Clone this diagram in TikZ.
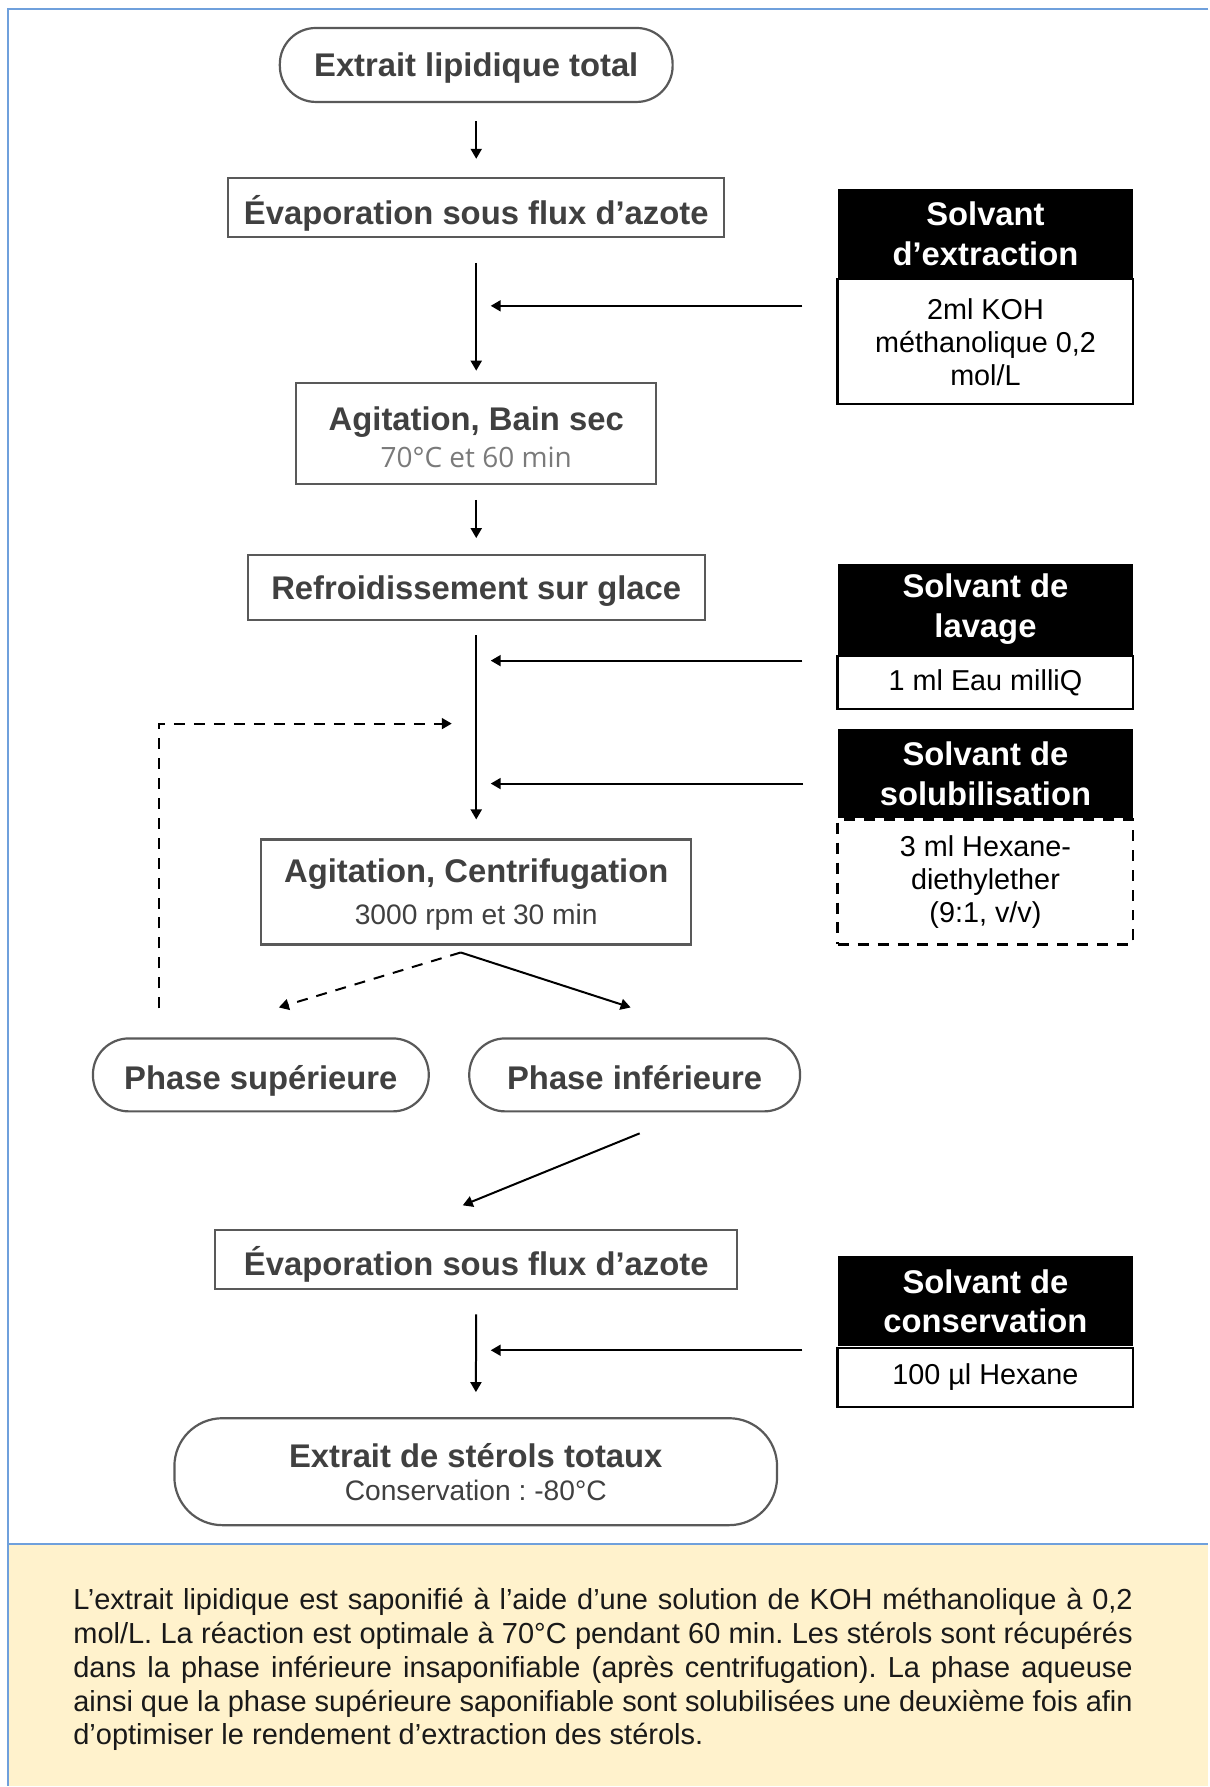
\documentclass[tikz,border=0pt]{standalone}
\usepackage{fontspec}
\setmainfont{Liberation Sans}
\newfontfamily\opensans{Open Sans}
\usetikzlibrary{positioning}
\usetikzlibrary{calc}
\usetikzlibrary{arrows.meta}
\frenchspacing

\definecolor{cadre}{HTML}{6FA0DC}
\definecolor{fondnote}{HTML}{FFF2CC}
\definecolor{gristexte}{HTML}{404040}
\definecolor{grisbord}{HTML}{595959}
\definecolor{grisclair}{HTML}{7A7A7A}

% descend le texte d'un noeud : strut invisible plus haut que la ligne
\newcommand{\decale}[2]{\vphantom{\raisebox{#1}{#2}}}

\begin{document}
\begin{tikzpicture}[x=0.5pt,y=-0.5pt,
    etape/.style={draw=grisbord, line width=1.1pt, fill=white, inner sep=0pt, align=center,
      text depth=0pt, text=gristexte, font=\bfseries\fontsize{16.4}{19.5}\selectfont},
    capsule/.style={etape, rounded corners=18pt},
    entete/.style={fill=black, text=white, inner sep=0pt, minimum width=148pt, align=center,
      font=\bfseries\fontsize{16.4}{20}\selectfont},
    dose/.style={draw=black, line width=1.1pt, fill=white, inner sep=0pt, minimum width=148pt,
      align=center, font=\fontsize{14.4}{16.5}\selectfont},
    fl/.style={-{Triangle[length=5pt,width=5.5pt]}, line width=1pt},
    flpt/.style={fl, dash pattern=on 5.5pt off 4.5pt}]

    % fond et cadre
    \fill[white] (0,0) rectangle (1209,1787);
    \fill[fondnote] (8,1545) rectangle (1209,1787);
    \draw[cadre, line width=1pt] (1209,9) -- (8,9) -- (8,1787);
    \draw[cadre, line width=1pt] (8,1545) -- (1209,1545);
    \useasboundingbox (0,0) rectangle (1209,1787);

    % etapes
    \node[capsule, minimum width=196.5pt, minimum height=37pt] (lipides) at (476.5,65) {Extrait lipidique total};
    \node[etape, minimum width=248pt, minimum height=29.5pt] (evap1) at (476.5,207.5) {\decale{2.4pt}{É}Évaporation sous flux d’azote};
    \node[etape, minimum width=180pt, minimum height=50.5pt] (bain) at (476.5,433.5)
      {\decale{4.6pt}{A}Agitation, Bain sec\\[-0.7pt]{\opensans\mdseries\fontsize{14}{19.5}\selectfont\color{grisclair}70°C et 60 min}};
    \node[etape, minimum width=228.5pt, minimum height=32.5pt] (glace) at (476.5,588) {Refroidissement sur glace};
    \node[etape, minimum width=215pt, minimum height=52.5pt] (centri) at (476.5,892.5)
      {Agitation, Centrifugation\\[1.5pt]{\mdseries\fontsize{14.1}{19.5}\selectfont 3000 rpm et 30 min}};
    \node[capsule, minimum width=168pt, minimum height=36.5pt] (sup) at (261,1075.5) {\decale{2.3pt}{hé}Phase supérieure};
    \node[capsule, minimum width=165.5pt, minimum height=36.5pt] (inf) at (635,1075.5) {\decale{2.3pt}{hé}Phase inférieure};
    \node[etape, minimum width=261pt, minimum height=29.5pt] (evap2) at (476.5,1260.5) {\decale{1pt}{É}Évaporation sous flux d’azote};
    \node[capsule, rounded corners=24pt, minimum width=301.5pt, minimum height=53.5pt] (sterols) at (476,1472.5)
      {Extrait de stérols totaux\\[-3pt]{\mdseries\fontsize{14.1}{19.5}\selectfont Conservation : -80°C}};

    % solvants
    \node[entete, minimum height=44.5pt] (extraction) at (986,233.5) {Solvant\\d’extraction};
    \node[dose, minimum height=62.5pt, below=0pt of extraction] (koh) {2ml KOH\\méthanolique 0,2\\mol/L};
    \node[entete, minimum height=45.5pt] (lavage) at (986,609.5) {Solvant de\\lavage};
    \node[dose, minimum height=26.5pt, below=0pt of lavage] (eau) {1 ml Eau milliQ};
    \node[dose, minimum height=62.5pt, dash pattern=on 5.5pt off 4.5pt] (hexdi) at (986,882.5) {3 ml Hexane-\\diethylether\\(9:1, v/v)};
    \node[entete, minimum height=44.5pt, above=0pt of hexdi] (solub) {Solvant de\\solubilisation};
    \node[entete, minimum height=45pt] (conserv) at (986,1302) {Solvant de\\conservation};
    \node[dose, minimum height=29.5pt, below=0pt of conserv] (hexane) {100 µl Hexane};

    % points d'arrivee
    \coordinate (j1) at (476.5,306);
    \coordinate (j2) at (476.5,661);
    \coordinate (j3) at (476.5,784);
    \coordinate (j4) at (476.5,1351);
    \coordinate (j5) at (476.5,724);
    \coordinate (retour) at (159,1009);
    \coordinate (split) at (461,953);
    \coordinate (versup) at (279,1008);
    \coordinate (versinf) at (631,1008);
    \coordinate (depinf) at (640,1134);
    \coordinate (versevap) at (463,1206);

    \draw[fl, shorten <=9pt, shorten >=9pt] (lipides) -- (evap1);
    \draw[fl, shorten <=12.5pt, shorten >=5.5pt] (evap1) -- (bain);
    \draw[fl, shorten <=7.5pt, shorten >=8pt] (bain) -- (glace);
    \draw[fl, shorten <=7pt, shorten >=9.5pt] (glace) -- (centri);
    \draw[fl, shorten <=12pt, shorten >=12.5pt] (evap2) -- (sterols);

    \draw[fl, shorten <=17pt, shorten >=7.25pt] (koh.west |- j1) -- (j1);
    \draw[fl, shorten <=17pt, shorten >=7.25pt] (eau.west |- j2) -- (j2);
    \draw[fl, shorten <=17pt, shorten >=7.25pt] (solub.west |- j3) -- (j3);
    \draw[fl, shorten <=17pt, shorten >=7.25pt] (hexane.west |- j4) -- (j4);

    \draw[flpt, shorten >=12.25pt] (retour) |- (j5);
    \draw[flpt] (split) -- (versup);
    \draw[fl] (split) -- (versinf);
    \draw[fl] (depinf) -- (versevap);

    % note
    \node[anchor=north west, inner sep=0pt, text width=530pt, align=justify, text=black!90,
      font=\fontsize{14.5}{16.9}\selectfont] (note) at (73,1589)
      {\hyphenpenalty=10000 L’extrait lipidique est saponifié à l’aide d’une solution de KOH méthanolique à 0,2 mol/L. La réaction est optimale à 70°C pendant 60 min. Les stérols sont récupérés dans la phase inférieure insaponifiable (après centrifugation). La phase aqueuse ainsi que la phase supérieure saponifiable sont solubilisées une deuxième fois afin d’optimiser le rendement d’extraction des stérols.};
\end{tikzpicture}
\end{document}
